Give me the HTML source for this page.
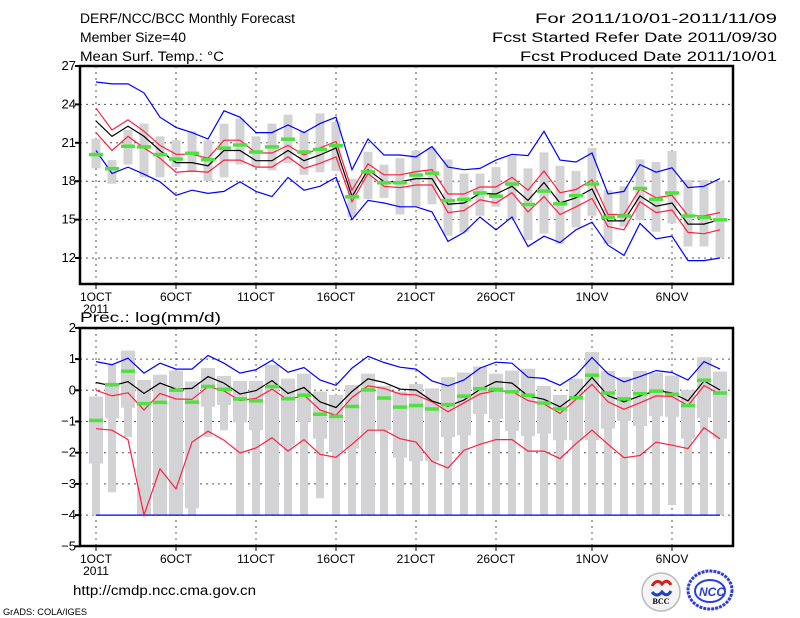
<!DOCTYPE html>
<html><head><meta charset="utf-8"><style>
html,body{margin:0;padding:0;background:#fff;}
svg{display:block;font-family:"Liberation Sans",sans-serif;}
</style></head><body>
<svg id="chart" width="800" height="618" viewBox="0 0 800 618">
<g id="hdr" font-size="13.5" fill="#000">
<text x="80" y="23" textLength="215" lengthAdjust="spacingAndGlyphs">DERF/NCC/BCC Monthly Forecast</text>
<text x="80" y="42" textLength="106" lengthAdjust="spacingAndGlyphs">Member Size=40</text>
<text x="80" y="61" textLength="144" lengthAdjust="spacingAndGlyphs">Mean Surf. Temp.: °C</text>
<text x="777" y="23" text-anchor="end" textLength="242" lengthAdjust="spacingAndGlyphs">For 2011/10/01-2011/11/09</text>
<text x="777" y="42" text-anchor="end" textLength="285" lengthAdjust="spacingAndGlyphs">Fcst Started Refer Date 2011/09/30</text>
<text x="777" y="61" text-anchor="end" textLength="257" lengthAdjust="spacingAndGlyphs">Fcst Produced Date 2011/10/01</text>
<text x="80" y="322" textLength="141" lengthAdjust="spacingAndGlyphs">Prec.: log(mm/d)</text>
<text x="73" y="595" textLength="183" lengthAdjust="spacingAndGlyphs">http://cmdp.ncc.cma.gov.cn</text>
<text x="3" y="615" font-size="9.5" textLength="84" lengthAdjust="spacingAndGlyphs">GrADS: COLA/IGES</text>
</g>
<g>
<circle cx="661" cy="592" r="19" fill="#f4f4f4" stroke="#bbb" stroke-width="1.5"/>
<path d="M652 586 q5 -8 10 -2 q5 -6 9 1" fill="none" stroke="#d02020" stroke-width="3"/>
<path d="M652 592 q5 6 10 0 q5 6 9 -1" fill="none" stroke="#2040c0" stroke-width="3"/>
<text x="661" y="604" font-size="8" font-family="Liberation Serif,serif" font-weight="bold" text-anchor="middle">BCC</text>
</g>
<g>
<ellipse cx="710" cy="590" rx="22" ry="19" fill="none" stroke="#2a3ee0" stroke-width="3" stroke-dasharray="3 1"/>
<ellipse cx="710" cy="591" rx="15" ry="11" fill="none" stroke="#2a3ee0" stroke-width="2"/>
<text x="712" y="596" font-size="12" font-style="italic" font-weight="bold" fill="#2a3ee0" text-anchor="middle">NCC</text>
</g>
</svg>
<script>
// ---------- data ----------
const dayLabels = ["1OCT","6OCT","11OCT","16OCT","21OCT","26OCT","1NOV","6NOV"];
const dayTicks = [0,5,10,15,20,25,31,36];
const tTicks = [27,24,21,18,15,12];
const pTicks = [2,1,0,-1,-2,-3,-4,-5];

const tBlueHi = [25.75,25.6,25.6,24.9,23.0,22.2,21.8,21.3,23.5,23.0,21.8,21.8,22.4,21.8,22.5,23.0,18.9,21.3,20.05,20.05,19.9,20.7,19.1,18.9,19.0,19.65,20.1,20.0,21.9,19.65,19.5,20.2,17.0,17.2,19.3,18.7,19.05,17.5,17.6,18.2];
const tRedHi = [23.7,22.0,22.8,21.9,20.8,20.1,20.1,19.8,21.2,21.2,20.2,20.2,20.8,20.05,20.6,21.1,17.3,19.35,18.5,18.5,18.75,18.9,17.0,17.0,17.55,17.55,18.3,17.3,18.8,17.1,17.35,18.1,15.4,15.4,17.4,16.7,16.9,15.3,15.3,15.55];
const tMean = [22.7,21.5,22.3,21.5,20.4,19.45,19.45,19.2,20.4,20.4,19.6,19.6,20.4,19.6,20.05,20.6,16.8,18.9,17.95,17.95,18.2,18.2,16.2,16.3,17.05,17.0,17.6,16.5,17.9,16.3,16.7,17.4,14.9,14.9,16.85,16.05,16.3,14.65,14.65,15.0];
const tRedLo = [21.8,20.4,21.5,20.6,19.8,18.7,18.8,18.7,19.65,19.65,19.1,19.1,19.9,19.0,19.4,19.9,16.4,18.6,17.6,17.5,17.7,17.7,15.55,15.7,16.55,16.3,17.1,15.6,16.8,15.4,16.0,16.65,14.45,14.2,16.4,15.55,15.75,14.0,13.9,14.2];
const tBlueLo = [20.4,18.6,19.1,18.55,17.95,16.9,17.3,17.05,17.2,17.95,17.2,16.8,18.3,17.3,17.6,18.3,15.0,16.5,16.3,16.0,16.0,15.6,13.3,14.0,15.2,14.2,15.2,12.9,13.7,13.2,14.2,14.8,13.0,12.2,14.7,13.5,13.7,11.8,11.8,12.0];
const tObs = [20.1,19.0,20.75,20.7,20.1,19.75,20.2,19.7,20.6,20.85,20.3,20.7,21.3,20.3,20.5,20.8,16.8,18.75,17.9,17.9,18.5,18.65,16.5,16.6,17.1,16.85,17.8,16.2,17.25,16.25,16.9,17.8,15.2,15.3,17.45,16.6,17.1,15.3,15.2,15.0];
const tBarHi = [21.3,19.65,22.0,22.5,21.5,21.2,21.9,21.2,22.5,22.9,21.5,22.5,23.2,21.9,23.3,22.65,18.2,20.3,19.3,19.8,20.4,20.6,19.7,18.6,18.6,19.1,20.0,19.0,20.25,19.2,18.8,20.6,17.3,17.6,19.7,19.5,20.35,18.1,18.1,18.0];
const tBarLo = [19.0,17.8,19.3,18.3,18.3,19.1,18.7,18.0,18.3,19.3,19.1,18.85,19.4,18.5,18.7,18.8,15.2,16.6,16.7,15.4,16.0,16.2,13.75,14.0,15.3,16.0,15.0,13.4,13.9,13.1,14.4,15.3,13.1,14.45,14.95,14.05,14.7,12.9,12.9,12.0];

const pBlueHi = [0.92,0.82,1.03,0.55,0.87,0.68,0.68,1.12,0.87,0.55,0.66,0.96,0.58,0.73,0.33,0.16,0.71,1.09,0.89,0.74,0.68,0.3,0.14,0.33,0.71,0.9,0.87,0.42,0.38,0.16,0.49,1.05,0.53,0.27,0.44,0.63,0.57,0.33,0.92,0.68];
const pMean = [0.25,0.14,0.28,-0.1,0.23,0.04,0.06,0.44,0.23,-0.12,-0.01,0.31,-0.1,0.09,-0.37,-0.55,-0.04,0.37,0.25,0.04,0.01,-0.34,-0.51,-0.31,0.03,0.28,0.23,-0.18,-0.29,-0.53,-0.15,0.41,-0.17,-0.37,-0.18,-0.01,-0.08,-0.34,0.3,0.01];
const pRedHi = [0.0,-0.18,-0.08,-0.63,-0.1,-0.28,-0.29,0.12,-0.02,-0.33,-0.26,0.04,-0.31,-0.15,-0.63,-0.8,-0.23,0.14,0.06,-0.12,-0.15,-0.37,-0.69,-0.4,-0.12,-0.01,-0.04,-0.33,-0.44,-0.74,-0.29,0.19,-0.37,-0.61,-0.4,-0.18,-0.2,-0.49,0.15,-0.12];
const pRedLo = [-1.23,-1.28,-1.58,-4.0,-2.52,-3.16,-1.66,-1.31,-1.6,-2.01,-1.85,-1.52,-1.95,-1.58,-2.05,-2.15,-1.73,-1.28,-1.28,-1.55,-1.66,-2.28,-2.49,-1.92,-1.73,-1.58,-1.58,-1.95,-1.95,-2.19,-1.71,-1.28,-1.73,-2.16,-2.09,-1.66,-1.76,-1.87,-1.2,-1.55];
const pBlueLo = [-4,-4,-4,-4,-4,-4,-4,-4,-4,-4,-4,-4,-4,-4,-4,-4,-4,-4,-4,-4,-4,-4,-4,-4,-4,-4,-4,-4,-4,-4,-4,-4,-4,-4,-4,-4,-4,-4,-4,-4];
const pObs = [-0.96,0.19,0.62,-0.42,-0.38,0.01,-0.37,0.13,0.04,-0.27,-0.33,0.13,-0.26,-0.15,-0.76,-0.83,-0.51,0.02,-0.24,-0.53,-0.48,-0.59,-0.45,-0.18,0.06,0.04,-0.04,-0.15,-0.4,-0.59,-0.23,0.49,-0.08,-0.27,-0.1,-0.02,-0.12,-0.48,0.33,-0.08];
const pWhiskHi = [-0.2,0.82,1.27,0.33,0.5,0.63,0.28,0.71,0.46,0.3,0.3,0.82,0.37,0.53,-0.04,-0.15,0.17,0.53,0.14,-0.04,0.2,0.06,0.42,0.57,0.76,0.53,0.63,0.69,0.14,-0.15,0.37,1.23,0.62,0.42,0.62,0.57,0.47,0.01,1.06,0.6];
const pWhiskLo = [-4,-3.27,-1.5,-4,-4,-4,-4,-1.5,-1.28,-4,-4,-4,-4,-4,-3.46,-4,-4,-4,-4,-4,-4,-4,-4,-4,-4,-4,-4,-4,-4,-4,-4,-4,-4,-4,-4,-4,-3.68,-4,-4,-4];
const pBoxHi = [-0.2,0.23,1.27,0.33,0.5,0.63,0.28,0.71,0.46,0.3,0.3,0.82,0.37,0.53,-0.04,-0.15,0.17,0.53,0.14,-0.04,0.2,0.06,0.42,0.57,0.76,0.53,0.63,0.69,0.14,-0.15,0.37,1.23,0.62,0.42,0.62,0.57,0.47,0.01,1.06,0.6];
const pBoxLo = [-2.35,-0.9,-0.56,-4,-4,-4,-3.78,-0.53,-0.47,-1.03,-1.28,-4,-1.76,-1.01,-1.55,-1.98,-1.87,-4,-1.28,-2.16,-2.27,-2.27,-1.5,-1.44,-0.76,-0.92,-1.31,-1.47,-1.39,-1.6,-1.6,-1.6,-1.23,-0.98,-1.15,-0.83,-0.85,-1.55,-0.88,-1.55];

// ---------- axes ----------
const X0 = 80, X1 = 733;
const xDay = i => 96 + 16 * i;
const T = {top:66, bot:284, y: v => 66 + (27 - v) * 12.8};
const P = {top:328, bot:546, y: v => 390.3 - 31.2 * v};
const NS = "http://www.w3.org/2000/svg";
const svg = document.getElementById("chart");
function mk(tag, attrs, parent){
  const e = document.createElementNS(NS, tag);
  for (const k in attrs) e.setAttribute(k, attrs[k]);
  (parent || svg).appendChild(e);
  return e;
}
function grp(name){
  const g = mk("g", {});
  
  
  return g;
}
function panel(P, ticks, prefix, panelData){
  const g = grp(prefix + "-panel");
  const grid = grp(prefix + "-grid"); g.appendChild(grid);
  ticks.forEach(v => {
    const y = P.y(v);
    if (y > P.top + 1 && y < P.bot - 1) {
      const l = mk("line", {x1:X0, x2:X1, y1:y, y2:y, stroke:"#555", "stroke-width":1, "stroke-dasharray":"2 4"}, grid);
      
      
    }
    const t = mk("text", {x:76, y:y+4, "font-size":13, "text-anchor":"end"}, g);
    t.textContent = v < 0 ? "\u2212" + Math.abs(v) : String(v);
    
    
    const tk = mk("line", {x1:X0-5, x2:X0, y1:y, y2:y, stroke:"#000", "stroke-width":2}, g);
    
    
  });
  dayTicks.forEach((d, k) => {
    const x = xDay(d);
    const l = mk("line", {x1:x, x2:x, y1:P.top, y2:P.bot, stroke:"#555", "stroke-width":1, "stroke-dasharray":"2 4"}, grid);
    
    
    const tk = mk("line", {x1:x, x2:x, y1:P.bot, y2:P.bot+5, stroke:"#000", "stroke-width":1}, g);
    
    
    const t = mk("text", {x:x, y:P.bot+17, "font-size":12, "text-anchor":"middle"}, g);
    t.textContent = dayLabels[k];
    
    
  });
  const yr = mk("text", {x:96, y:P.bot+29, "font-size":12, "text-anchor":"middle"}, g);
  yr.textContent = "2011";
  
  
  panelData(g);
  const f = mk("rect", {x:X0, y:P.top, width:X1-X0, height:P.bot-P.top, fill:"none", stroke:"#000", "stroke-width":2.5}, g);
  
  
}
function bars(g, P, hi, lo, w, name){
  hi.forEach((h, i) => {
    const y1 = P.y(h), y2 = P.y(lo[i]);
    const r = mk("rect", {x:xDay(i)-w/2, y:Math.min(y1,y2), width:w, height:Math.abs(y2-y1), fill:"#d3d3d6"}, g);
    
    
  });
}
function line(g, P, vals, color, name){
  const pts = vals.map((v, i) => xDay(i) + "," + P.y(v).toFixed(1)).join(" ");
  const l = mk("polyline", {points:pts, fill:"none", stroke:color, "stroke-width":1.2}, g);
  
  
}
function obs(g, P, vals, name){
  vals.forEach((v, i) => {
    const r = mk("rect", {x:xDay(i)-7, y:P.y(v)-1.5, width:14, height:3.5, fill:"#50e040"}, g);
    
    
  });
}
panel(T, tTicks, "temp", g => {
  bars(g, T, tBarHi, tBarLo, 9, "temp-spread-bar");
  line(g, T, tBlueHi, "#0000ff", "temp-upper-bound-line");
  line(g, T, tBlueLo, "#0000ff", "temp-lower-bound-line");
  line(g, T, tRedHi, "#ff1f40", "temp-upper-std-line");
  line(g, T, tRedLo, "#ff1f40", "temp-lower-std-line");
  line(g, T, tMean, "#000000", "temp-ensemble-mean-line");
  obs(g, T, tObs, "temp-observed-mark");
});
panel(P, pTicks, "prec", g => {
  bars(g, P, pWhiskHi, pWhiskLo, 8, "prec-whisker-bar");
  bars(g, P, pBoxHi, pBoxLo, 14, "prec-box-bar");
  line(g, P, pBlueHi, "#0000ff", "prec-upper-bound-line");
  line(g, P, pBlueLo, "#0000ff", "prec-lower-bound-line");
  line(g, P, pRedHi, "#ff1f40", "prec-upper-std-line");
  line(g, P, pRedLo, "#ff1f40", "prec-lower-std-line");
  line(g, P, pMean, "#000000", "prec-ensemble-mean-line");
  obs(g, P, pObs, "prec-observed-mark");
});
</script>
</body></html>
